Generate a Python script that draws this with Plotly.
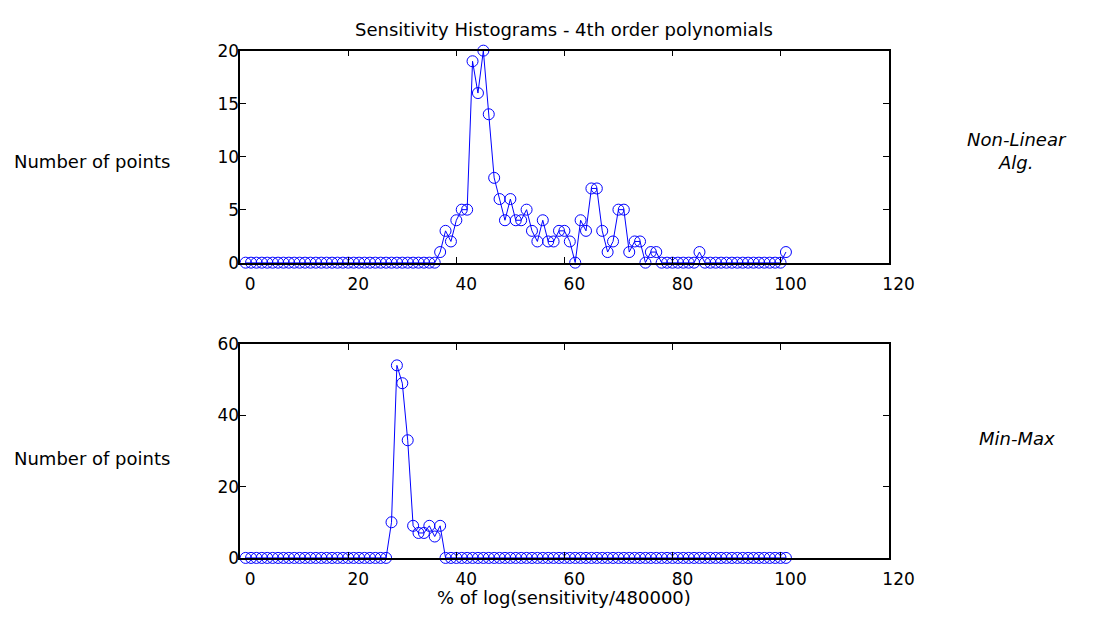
import plotly.graph_objects as go

# ---- data ----
bins = list(range(1, 102))  # MATLAB index 1..101

nonlinear_counts = [
    0, 0, 0, 0, 0, 0, 0, 0, 0, 0,
    0, 0, 0, 0, 0, 0, 0, 0, 0, 0,
    0, 0, 0, 0, 0, 0, 0, 0, 0, 0,
    0, 0, 0, 0, 0, 0, 1, 3, 2, 4,
    5, 5, 19, 16, 20, 14, 8, 6, 4, 6,
    4, 4, 5, 3, 2, 4, 2, 2, 3, 3,
    2, 0, 4, 3, 7, 7, 3, 1, 2, 5,
    5, 1, 2, 2, 0, 1, 1, 0, 0, 0,
    0, 0, 0, 0, 1, 0, 0, 0, 0, 0,
    0, 0, 0, 0, 0, 0, 0, 0, 0, 0,
    1,
]

minmax_counts = [
    0, 0, 0, 0, 0, 0, 0, 0, 0, 0,
    0, 0, 0, 0, 0, 0, 0, 0, 0, 0,
    0, 0, 0, 0, 0, 0, 0, 10, 54, 49,
    33, 9, 7, 7, 9, 6, 9, 0, 0, 0,
    0, 0, 0, 0, 0, 0, 0, 0, 0, 0,
    0, 0, 0, 0, 0, 0, 0, 0, 0, 0,
    0, 0, 0, 0, 0, 0, 0, 0, 0, 0,
    0, 0, 0, 0, 0, 0, 0, 0, 0, 0,
    0, 0, 0, 0, 0, 0, 0, 0, 0, 0,
    0, 0, 0, 0, 0, 0, 0, 0, 0, 0,
    0,
]

x_ticks = [0, 20, 40, 60, 80, 100, 120]
top_y_ticks = [0, 5, 10, 15, 20]
bottom_y_ticks = [0, 20, 40, 60]

title_text = "Sensitivity Histograms - 4th order polynomials"
ylabel_text = "Number of points"
xlabel_text = "% of log(sensitivity/480000)"
top_side_text = "Non-Linear<br>Alg."
bottom_side_text = "Min-Max"

# ---- figure ----
W, H = 1105, 626
FONT = "DejaVu Sans"
BLUE = "#0000ff"


def fx(p):
    return p / W


def fy(p):
    return 1 - p / H


fig = go.Figure()
for counts, xa, ya in [(nonlinear_counts, "x", "y"), (minmax_counts, "x2", "y2")]:
    fig.add_trace(go.Scatter(
        x=bins, y=counts, mode="lines+markers",
        line=dict(color=BLUE, width=1),
        marker=dict(symbol="circle-open", size=11, color=BLUE, line=dict(width=1, color=BLUE)),
        cliponaxis=False, xaxis=xa, yaxis=ya, hoverinfo="x+y",
    ))

axis_common = dict(
    showline=True, linecolor="black", linewidth=1.5, mirror="ticks",
    ticks="inside", ticklen=6, tickcolor="black", tickwidth=1,
    showgrid=False, zeroline=False,
    tickfont=dict(family=FONT, size=17, color="black"),
)
xdom = [fx(246), fx(910)]

fig.update_layout(
    width=W, height=H, margin=dict(l=0, r=0, t=0, b=0),
    paper_bgcolor="white", plot_bgcolor="white", showlegend=False,
    xaxis=dict(domain=xdom, range=[0, 120], tickvals=x_ticks, anchor="y",
               ticklabelshift=10, ticklabelstandoff=5, **axis_common),
    yaxis=dict(domain=[fy(261), fy(42)], range=[0, 20], tickvals=top_y_ticks,
               anchor="x", ticklabelstandoff=-4, **axis_common),
    xaxis2=dict(domain=xdom, range=[0, 120], tickvals=x_ticks, anchor="y2",
                ticklabelshift=10, ticklabelstandoff=5, **axis_common),
    yaxis2=dict(domain=[fy(566), fy(345)], range=[0, 60], tickvals=bottom_y_ticks,
                anchor="x2", ticklabelstandoff=-4, **axis_common),
)

txt_font = dict(family=FONT, size=18, color="black")
ann = [
    dict(text=title_text, x=fx(578), y=fy(20), xanchor="center", yanchor="middle"),
    dict(text=ylabel_text, x=fx(12), y=fy(156), xanchor="left", yanchor="middle"),
    dict(text=ylabel_text, x=fx(12), y=fy(463), xanchor="left", yanchor="middle"),
    dict(text="<i>" + top_side_text + "</i>", x=fx(1041), y=fy(146), xanchor="center",
         yanchor="middle", align="center"),
    dict(text="<i>" + bottom_side_text + "</i>", x=fx(1042), y=fy(443), xanchor="center",
         yanchor="middle"),
    dict(text=xlabel_text, x=fx(578), y=fy(607), xanchor="center", yanchor="middle"),
]
for a in ann:
    a.update(xref="paper", yref="paper", showarrow=False, font=txt_font)
fig.update_layout(annotations=ann)

page_css = ("document.documentElement.style.margin='0';document.documentElement.style.padding='0';"
            "document.body.style.margin='0';document.body.style.padding='0';"
            "document.documentElement.style.overflow='hidden';document.body.style.overflow='hidden';")
fig.write_html("out.html", post_script=page_css)
